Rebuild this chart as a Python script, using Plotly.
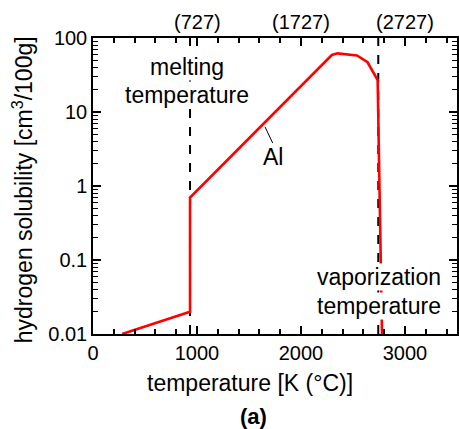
import plotly.graph_objects as go

# Data (temperature in K, hydrogen solubility in cm3/100g)
temp_K = [280, 933, 933, 2297, 2351, 2538, 2640, 2737, 2779]
solubility = [0.01, 0.02, 0.7, 59, 62, 58, 47, 27, 0.01]

melting_K = 933
boiling_K = 2743

x_tick_vals = [0, 1000, 2000, 3000]
x_tick_text = ["0", "1000", "2000", "3000"]
top_tick_vals = [1000, 2000, 3000]
top_tick_text = ["(727)", "(1727)", "(2727)"]
y_tick_vals = [0.01, 0.1, 1, 10, 100]
y_tick_text = ["0.01", "0.1", "1", "10", "100"]

FONT = "Liberation Sans, Arial, sans-serif"
W, H = 459, 429
ML, MR, MT, MB = 93, 2, 38, 95

fig = go.Figure()

for xv in [melting_K, boiling_K]:
    fig.add_trace(go.Scatter(x=[xv, xv], y=[0.01, 100], mode="lines",
                             line=dict(color="black", width=2, dash="dash"),
                             hoverinfo="skip", showlegend=False))

fig.add_trace(go.Scatter(x=temp_K, y=solubility, mode="lines",
                         line=dict(color="#ff0000", width=2.6),
                         showlegend=False))

# leader line for "Al"
fig.add_trace(go.Scatter(x=[1654, 1728], y=[6.3, 3.8], mode="lines",
                         line=dict(color="black", width=1), showlegend=False))

fig.update_xaxes(range=[0, 3500], tickmode="array", tickvals=x_tick_vals, ticktext=x_tick_text,
                 ticks="inside", ticklen=8, tickwidth=1.5, tickcolor="black",
                 minor=dict(ticks="inside", dtick=200, ticklen=5, tickwidth=1.5,
                            tickcolor="black", showgrid=False),
                 showline=True, linecolor="black", linewidth=1.5, mirror="allticks",
                 showgrid=False, zeroline=False, automargin=False,
                 tickfont=dict(family=FONT, size=20, color="black"))
fig.update_yaxes(type="log", range=[-2, 2], tickmode="array", tickvals=y_tick_vals, ticktext=y_tick_text,
                 ticks="inside", ticklen=8, tickwidth=1.5, tickcolor="black",
                 minor=dict(ticks="inside", dtick="D1", ticklen=5, tickwidth=1.2,
                            tickcolor="black", showgrid=False),
                 showline=True, linecolor="black", linewidth=1.5, mirror="allticks",
                 showgrid=False, zeroline=False, automargin=False,
                 tickfont=dict(family=FONT, size=20, color="black"))

ann = []
for v, t in zip(top_tick_vals, top_tick_text):
    ann.append(dict(x=v, y=1, xref="x", yref="paper", text=t, showarrow=False,
                    xanchor="center", yanchor="bottom", yshift=3,
                    font=dict(family=FONT, size=20, color="black")))

tf = dict(family=FONT, size=23, color="black")
for txt, xv, yv in [("melting", 902, 0.9036), ("temperature", 902, 0.807),
                    ("vaporization", 2753, 0.193), ("temperature", 2753, 0.0948)]:
    ann.append(dict(x=xv, y=yv, xref="x", yref="paper", text=txt, showarrow=False,
                    xanchor="center", yanchor="middle",
                    bgcolor="white", borderpad=0, font=tf))

ann.append(dict(x=1731, y=0.599, xref="x", yref="paper", text="Al", showarrow=False,
                xanchor="center", yanchor="middle", font=tf))

ann.append(dict(x=0.431, y=-0.166, xref="paper", yref="paper", text="temperature [K (°C)]",
                xanchor="center", yanchor="middle", showarrow=False, font=tf))
ann.append(dict(x=-0.194, y=0.487, xref="paper", yref="paper",
                text="hydrogen solubility [cm<sup>3</sup>/100g]", textangle=-90,
                xanchor="center", yanchor="middle", showarrow=False, font=tf))
ann.append(dict(x=0.442, y=-0.28, xref="paper", yref="paper", text="<b>(a)</b>",
                xanchor="center", yanchor="middle", showarrow=False,
                font=dict(family=FONT, size=22, color="black")))

fig.update_layout(template="none", width=W, height=H,
                  margin=dict(l=ML, r=MR, t=MT, b=MB, autoexpand=False),
                  plot_bgcolor="white", paper_bgcolor="white", annotations=ann,
                  showlegend=False)

fig.write_html("out.html")
